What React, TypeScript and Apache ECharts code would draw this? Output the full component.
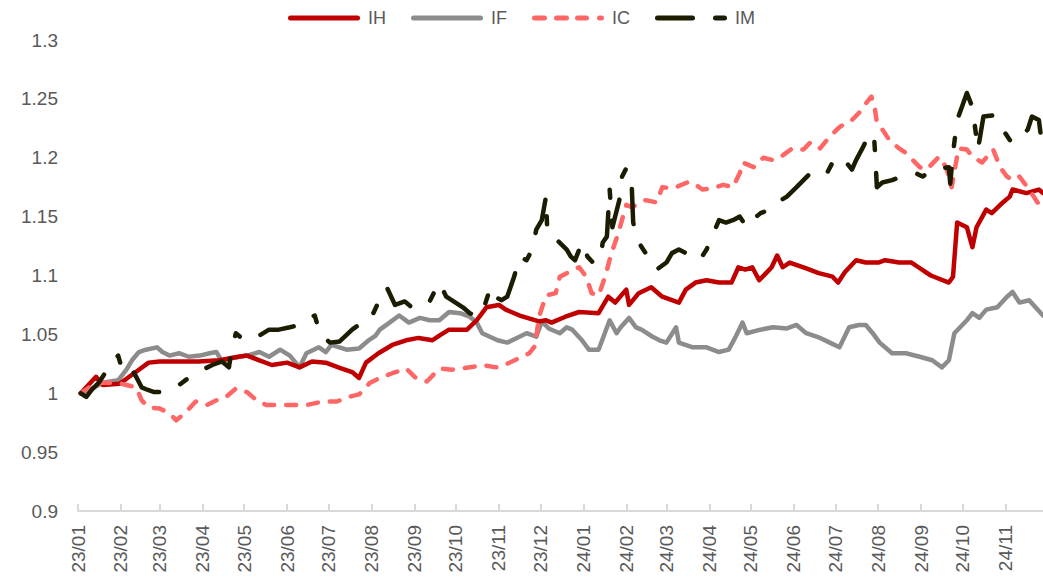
import React, { useEffect, useRef } from "react";
import * as echarts from "echarts";

type Pt = [string, number];

const seriesNames = ["IH", "IF", "IC", "IM"];

const monthLabels = [
  "23/01", "23/02", "23/03", "23/04", "23/05", "23/06", "23/07", "23/08", "23/09", "23/10", "23/11", "23/12",
  "24/01", "24/02", "24/03", "24/04", "24/05", "24/06", "24/07", "24/08", "24/09", "24/10", "24/11",
];

const yTicks = [0.9, 0.95, 1, 1.05, 1.1, 1.15, 1.2, 1.25, 1.3];

const IH: Pt[] = [
  ["2023-01-03", 1.0], ["2023-01-14", 1.014], ["2023-01-19", 1.007], ["2023-01-31", 1.008], ["2023-02-07", 1.014],
  ["2023-02-14", 1.02], ["2023-02-21", 1.026], ["2023-03-01", 1.027], ["2023-03-15", 1.027], ["2023-03-29", 1.027],
  ["2023-04-13", 1.028], ["2023-04-27", 1.031], ["2023-05-03", 1.032], ["2023-05-12", 1.028], ["2023-05-21", 1.024],
  ["2023-06-01", 1.026], ["2023-06-10", 1.022], ["2023-06-19", 1.027], ["2023-06-29", 1.026], ["2023-07-08", 1.022],
  ["2023-07-18", 1.018], ["2023-07-23", 1.013], ["2023-07-28", 1.026], ["2023-08-06", 1.034], ["2023-08-16", 1.041],
  ["2023-08-26", 1.045], ["2023-09-04", 1.047], ["2023-09-14", 1.045], ["2023-09-19", 1.049], ["2023-09-26", 1.054],
  ["2023-10-09", 1.054], ["2023-10-16", 1.062], ["2023-10-23", 1.073], ["2023-11-01", 1.075], ["2023-11-06", 1.071],
  ["2023-11-16", 1.066], ["2023-11-30", 1.061], ["2023-12-05", 1.062], ["2023-12-09", 1.06], ["2023-12-19", 1.065],
  ["2023-12-29", 1.069], ["2024-01-12", 1.068], ["2024-01-19", 1.082], ["2024-01-24", 1.077], ["2024-02-01", 1.088],
  ["2024-02-03", 1.075], ["2024-02-10", 1.085], ["2024-02-19", 1.09], ["2024-02-27", 1.082], ["2024-03-05", 1.079],
  ["2024-03-10", 1.077], ["2024-03-15", 1.088], ["2024-03-22", 1.094], ["2024-03-30", 1.096], ["2024-04-08", 1.094],
  ["2024-04-17", 1.094], ["2024-04-22", 1.107], ["2024-04-27", 1.105], ["2024-05-02", 1.107], ["2024-05-07", 1.096],
  ["2024-05-12", 1.102], ["2024-05-16", 1.107], ["2024-05-20", 1.117], ["2024-05-24", 1.107], ["2024-05-29", 1.111],
  ["2024-06-10", 1.106], ["2024-06-19", 1.102], ["2024-06-29", 1.099], ["2024-07-03", 1.094], ["2024-07-08", 1.103],
  ["2024-07-16", 1.113], ["2024-07-23", 1.111], ["2024-08-01", 1.111], ["2024-08-06", 1.113], ["2024-08-16", 1.111],
  ["2024-08-25", 1.111], ["2024-08-30", 1.107], ["2024-09-08", 1.1], ["2024-09-21", 1.094], ["2024-09-24", 1.099],
  ["2024-09-27", 1.145], ["2024-10-04", 1.141], ["2024-10-08", 1.124], ["2024-10-11", 1.141], ["2024-10-18", 1.156],
  ["2024-10-22", 1.153], ["2024-10-30", 1.162], ["2024-11-04", 1.167], ["2024-11-06", 1.173], ["2024-11-16", 1.17],
  ["2024-11-25", 1.173], ["2024-11-28", 1.17],
];

const IF: Pt[] = [
  ["2023-01-03", 1.0], ["2023-01-11", 1.004], ["2023-01-19", 1.009], ["2023-01-30", 1.011], ["2023-02-05", 1.02],
  ["2023-02-09", 1.028], ["2023-02-14", 1.035], ["2023-02-19", 1.037], ["2023-02-27", 1.039], ["2023-03-03", 1.035],
  ["2023-03-08", 1.032], ["2023-03-15", 1.034], ["2023-03-22", 1.031], ["2023-03-30", 1.032], ["2023-04-06", 1.034],
  ["2023-04-11", 1.035], ["2023-04-15", 1.027], ["2023-04-22", 1.03], ["2023-05-03", 1.032], ["2023-05-12", 1.035],
  ["2023-05-19", 1.031], ["2023-05-27", 1.037], ["2023-06-03", 1.032], ["2023-06-10", 1.022], ["2023-06-15", 1.034],
  ["2023-06-24", 1.039], ["2023-06-29", 1.035], ["2023-07-03", 1.041], ["2023-07-14", 1.037], ["2023-07-23", 1.038],
  ["2023-07-30", 1.045], ["2023-08-04", 1.049], ["2023-08-07", 1.054], ["2023-08-14", 1.06], ["2023-08-21", 1.066],
  ["2023-08-28", 1.06], ["2023-09-05", 1.064], ["2023-09-12", 1.062], ["2023-09-19", 1.062], ["2023-09-26", 1.069],
  ["2023-10-04", 1.068], ["2023-10-11", 1.065], ["2023-10-16", 1.06], ["2023-10-20", 1.051], ["2023-10-31", 1.045],
  ["2023-11-07", 1.043], ["2023-11-14", 1.047], ["2023-11-21", 1.051], ["2023-11-28", 1.048], ["2023-12-02", 1.061],
  ["2023-12-07", 1.055], ["2023-12-15", 1.051], ["2023-12-20", 1.056], ["2023-12-24", 1.054], ["2023-12-31", 1.045],
  ["2024-01-05", 1.037], ["2024-01-12", 1.037], ["2024-01-20", 1.062], ["2024-01-25", 1.051], ["2024-01-28", 1.056],
  ["2024-02-03", 1.064], ["2024-02-08", 1.056], ["2024-02-12", 1.054], ["2024-02-20", 1.048], ["2024-02-25", 1.045],
  ["2024-03-01", 1.043], ["2024-03-08", 1.056], ["2024-03-10", 1.043], ["2024-03-20", 1.039], ["2024-03-30", 1.039],
  ["2024-04-08", 1.035], ["2024-04-15", 1.037], ["2024-04-20", 1.048], ["2024-04-25", 1.06], ["2024-04-28", 1.051],
  ["2024-05-08", 1.054], ["2024-05-17", 1.056], ["2024-05-27", 1.055], ["2024-06-03", 1.058], ["2024-06-10", 1.051],
  ["2024-06-20", 1.047], ["2024-06-27", 1.043], ["2024-07-04", 1.039], ["2024-07-11", 1.056], ["2024-07-18", 1.058],
  ["2024-07-23", 1.058], ["2024-07-28", 1.051], ["2024-08-02", 1.043], ["2024-08-11", 1.034], ["2024-08-21", 1.034],
  ["2024-08-31", 1.031], ["2024-09-09", 1.028], ["2024-09-16", 1.022], ["2024-09-21", 1.028], ["2024-09-25", 1.051],
  ["2024-10-04", 1.062], ["2024-10-08", 1.068], ["2024-10-13", 1.064], ["2024-10-18", 1.071], ["2024-10-26", 1.073],
  ["2024-11-02", 1.082], ["2024-11-06", 1.086], ["2024-11-11", 1.077], ["2024-11-18", 1.079], ["2024-11-28", 1.066],
];

const IC: Pt[] = [
  ["2023-01-03", 1.0], ["2023-01-12", 1.007], ["2023-01-19", 1.009], ["2023-01-29", 1.009], ["2023-02-05", 1.007],
  ["2023-02-12", 1.005], ["2023-02-16", 0.994], ["2023-02-21", 0.988], ["2023-03-01", 0.987], ["2023-03-08", 0.983],
  ["2023-03-13", 0.977], ["2023-03-20", 0.984], ["2023-03-27", 0.993], ["2023-04-04", 0.99], ["2023-04-11", 0.994],
  ["2023-04-18", 0.997], ["2023-04-25", 1.004], ["2023-05-03", 1.001], ["2023-05-10", 0.994], ["2023-05-17", 0.99],
  ["2023-06-01", 0.99], ["2023-06-15", 0.99], ["2023-06-27", 0.993], ["2023-07-07", 0.993], ["2023-07-16", 0.997],
  ["2023-07-23", 0.999], ["2023-07-31", 1.009], ["2023-08-07", 1.013], ["2023-08-16", 1.017], ["2023-08-26", 1.021],
  ["2023-09-02", 1.013], ["2023-09-10", 1.01], ["2023-09-19", 1.021], ["2023-09-28", 1.02], ["2023-10-11", 1.022],
  ["2023-10-20", 1.024], ["2023-10-30", 1.022], ["2023-11-07", 1.025], ["2023-11-16", 1.03], ["2023-11-23", 1.034],
  ["2023-11-27", 1.04], ["2023-11-30", 1.065], ["2023-12-05", 1.083], ["2023-12-12", 1.085], ["2023-12-15", 1.099],
  ["2023-12-20", 1.102], ["2023-12-29", 1.107], ["2024-01-03", 1.099], ["2024-01-07", 1.085], ["2024-01-12", 1.083],
  ["2024-01-17", 1.1], ["2024-01-21", 1.118], ["2024-01-26", 1.135], ["2024-02-01", 1.16], ["2024-02-05", 1.158],
  ["2024-02-15", 1.164], ["2024-02-23", 1.162], ["2024-02-27", 1.175], ["2024-03-06", 1.174], ["2024-03-16", 1.179],
  ["2024-03-20", 1.179], ["2024-03-27", 1.173], ["2024-04-03", 1.174], ["2024-04-11", 1.177], ["2024-04-18", 1.175],
  ["2024-04-23", 1.187], ["2024-04-25", 1.196], ["2024-05-03", 1.192], ["2024-05-10", 1.2], ["2024-05-17", 1.198],
  ["2024-05-24", 1.202], ["2024-05-31", 1.208], ["2024-06-08", 1.207], ["2024-06-13", 1.213], ["2024-06-20", 1.208],
  ["2024-06-27", 1.218], ["2024-07-04", 1.226], ["2024-07-09", 1.23], ["2024-07-13", 1.232], ["2024-07-18", 1.238],
  ["2024-07-23", 1.246], ["2024-07-27", 1.252], ["2024-07-29", 1.246], ["2024-07-31", 1.23], ["2024-08-04", 1.224],
  ["2024-08-09", 1.215], ["2024-08-16", 1.208], ["2024-08-21", 1.204], ["2024-08-31", 1.192], ["2024-09-05", 1.19],
  ["2024-09-14", 1.201], ["2024-09-19", 1.192], ["2024-09-23", 1.175], ["2024-09-28", 1.208], ["2024-10-04", 1.207],
  ["2024-10-08", 1.201], ["2024-10-15", 1.196], ["2024-10-23", 1.207], ["2024-10-28", 1.192], ["2024-11-02", 1.184],
  ["2024-11-06", 1.181], ["2024-11-11", 1.184], ["2024-11-18", 1.173], ["2024-11-28", 1.155],
];

const IM: Pt[] = [
  ["2023-01-03", 1.0], ["2023-01-07", 0.997], ["2023-01-11", 1.003], ["2023-01-16", 1.009], ["2023-01-21", 1.018],
  ["2023-01-26", 1.026], ["2023-01-30", 1.032], ["2023-02-02", 1.02], ["2023-02-05", 1.017], ["2023-02-09", 1.02],
  ["2023-02-12", 1.014], ["2023-02-16", 1.005], ["2023-02-20", 1.003], ["2023-02-25", 1.001], ["2023-03-03", 1.001],
  ["2023-03-10", 1.003], ["2023-03-15", 1.007], ["2023-03-24", 1.015], ["2023-04-01", 1.02], ["2023-04-08", 1.024],
  ["2023-04-15", 1.027], ["2023-04-20", 1.022], ["2023-04-22", 1.037], ["2023-04-25", 1.051], ["2023-05-01", 1.045],
  ["2023-05-07", 1.047], ["2023-05-12", 1.049], ["2023-05-19", 1.054], ["2023-05-26", 1.054], ["2023-06-03", 1.056],
  ["2023-06-10", 1.058], ["2023-06-15", 1.063], ["2023-06-21", 1.066], ["2023-06-25", 1.05], ["2023-06-27", 1.048],
  ["2023-07-02", 1.043], ["2023-07-09", 1.044], ["2023-07-18", 1.054], ["2023-07-25", 1.06], ["2023-07-31", 1.062],
  ["2023-08-07", 1.08], ["2023-08-12", 1.09], ["2023-08-18", 1.075], ["2023-08-25", 1.078], ["2023-08-31", 1.072],
  ["2023-09-05", 1.076], ["2023-09-12", 1.078], ["2023-09-17", 1.09], ["2023-09-19", 1.094], ["2023-09-24", 1.082],
  ["2023-10-06", 1.073], ["2023-10-11", 1.068], ["2023-10-16", 1.065], ["2023-10-21", 1.072], ["2023-10-26", 1.09],
  ["2023-10-29", 1.082], ["2023-11-03", 1.079], ["2023-11-07", 1.082], ["2023-11-12", 1.099], ["2023-11-16", 1.116],
  ["2023-11-21", 1.113], ["2023-11-25", 1.122], ["2023-11-28", 1.139], ["2023-12-02", 1.147], ["2023-12-05", 1.167],
  ["2023-12-06", 1.136], ["2023-12-13", 1.13], ["2023-12-20", 1.122], ["2023-12-23", 1.116], ["2023-12-26", 1.113],
  ["2023-12-31", 1.128], ["2024-01-04", 1.116], ["2024-01-08", 1.111], ["2024-01-13", 1.113], ["2024-01-15", 1.128],
  ["2024-01-18", 1.133], ["2024-01-20", 1.173], ["2024-01-22", 1.141], ["2024-01-27", 1.164], ["2024-01-29", 1.184],
  ["2024-02-01", 1.191], ["2024-02-05", 1.175], ["2024-02-06", 1.145], ["2024-02-10", 1.128], ["2024-02-15", 1.119],
  ["2024-02-20", 1.111], ["2024-02-23", 1.105], ["2024-03-01", 1.111], ["2024-03-05", 1.119], ["2024-03-10", 1.122],
  ["2024-03-15", 1.119], ["2024-03-25", 1.113], ["2024-03-30", 1.122], ["2024-04-03", 1.133], ["2024-04-08", 1.147],
  ["2024-04-13", 1.145], ["2024-04-18", 1.147], ["2024-04-23", 1.15], ["2024-04-28", 1.141], ["2024-05-02", 1.147],
  ["2024-05-08", 1.153], ["2024-05-15", 1.156], ["2024-05-20", 1.162], ["2024-05-27", 1.167], ["2024-06-03", 1.175],
  ["2024-06-13", 1.187], ["2024-06-20", 1.19], ["2024-06-25", 1.187], ["2024-06-29", 1.196], ["2024-07-04", 1.201],
  ["2024-07-09", 1.196], ["2024-07-13", 1.19], ["2024-07-16", 1.198], ["2024-07-21", 1.209], ["2024-07-26", 1.221],
  ["2024-07-29", 1.218], ["2024-07-30", 1.198], ["2024-07-31", 1.175], ["2024-08-04", 1.179], ["2024-08-11", 1.181],
  ["2024-08-18", 1.184], ["2024-08-28", 1.187], ["2024-09-02", 1.184], ["2024-09-09", 1.19], ["2024-09-21", 1.192],
  ["2024-09-22", 1.178], ["2024-09-24", 1.204], ["2024-09-27", 1.232], ["2024-10-01", 1.245], ["2024-10-04", 1.255],
  ["2024-10-08", 1.243], ["2024-10-12", 1.207], ["2024-10-16", 1.235], ["2024-10-23", 1.236], ["2024-10-30", 1.224],
  ["2024-11-04", 1.215], ["2024-11-09", 1.213], ["2024-11-17", 1.224], ["2024-11-20", 1.235], ["2024-11-25", 1.232],
  ["2024-11-28", 1.205],
];

const xMin = "2023-01-01";
const xMax = "2024-11-28";

const FONT = "'Liberation Sans', Arial, sans-serif";
const TEXT_COLOR = "#595959";

// legend icons (72 x 5 boxes) mimicking each line style
const ICON_SOLID = "path://M2.5,0H69.5A2.5,2.5,0,0,1,69.5,5H2.5A2.5,2.5,0,0,1,2.5,0Z";
const ICON_DASH =
  "path://M2.5,0H12.5A2.5,2.5,0,0,1,12.5,5H2.5A2.5,2.5,0,0,1,2.5,0Z" +
  "M24.5,0H34.5A2.5,2.5,0,0,1,34.5,5H24.5A2.5,2.5,0,0,1,24.5,0Z" +
  "M45.5,0H54.5A2.5,2.5,0,0,1,54.5,5H45.5A2.5,2.5,0,0,1,45.5,0Z" +
  "M67.5,0H69.5A2.5,2.5,0,0,1,69.5,5H67.5A2.5,2.5,0,0,1,67.5,0Z";
const ICON_LONGDASH =
  "path://M2.5,0H37.5A2.5,2.5,0,0,1,37.5,5H2.5A2.5,2.5,0,0,1,2.5,0Z" +
  "M60.5,0H69.5A2.5,2.5,0,0,1,69.5,5H60.5A2.5,2.5,0,0,1,60.5,0Z";

function dateToTime(s: string): number {
  const [y, m, d] = s.split("-").map(Number);
  return new Date(y, m - 1, d).getTime();
}

function labelToTime(label: string): number {
  const [yy, mm] = label.split("/").map(Number);
  return new Date(2000 + yy, mm - 1, 1).getTime();
}

export default function App() {
  const ref = useRef<HTMLDivElement>(null);

  useEffect(() => {
    if (!ref.current) return;
    const chart = echarts.init(ref.current, null, { renderer: "svg" });
    const monthTimes = monthLabels.map(labelToTime);
    const labelMap = new Map<number, string>();
    monthTimes.forEach((t, i) => labelMap.set(t, monthLabels[i]));

    const mk = (name: string, data: Pt[], color: string, dash: any, z: number) => ({
      name,
      type: "line",
      data: data.map(([d, v]) => [dateToTime(d), v]),
      symbol: "none",
      showSymbol: false,
      z,
      lineStyle: { color, width: 4.5, type: dash, cap: "round", join: "round" },
      itemStyle: { color },
    });

    const icons = [ICON_SOLID, ICON_SOLID, ICON_DASH, ICON_LONGDASH];

    chart.setOption({
      animation: false,
      backgroundColor: "#ffffff",
      legend: {
        data: seriesNames.map((n, i) => ({ name: n, icon: icons[i] })),
        top: 4,
        left: "center",
        itemWidth: 72,
        itemHeight: 5,
        itemGap: 25,
        textStyle: { color: TEXT_COLOR, fontSize: 18, fontFamily: FONT, padding: [0, 0, 0, 3] },
      },
      grid: { left: 78, right: 0, top: 40, bottom: 73, containLabel: false },
      xAxis: {
        type: "value",
        min: dateToTime(xMin),
        max: dateToTime(xMax),
        splitLine: { show: false },
        axisLine: { show: true, lineStyle: { color: "#D9D9D9", width: 2 } },
        axisTick: {
          show: true,
          inside: true,
          length: 7,
          customValues: monthTimes,
          lineStyle: { color: "#D9D9D9", width: 2 },
        },
        axisLabel: {
          customValues: monthTimes,
          rotate: 90,
          margin: 14,
          color: TEXT_COLOR,
          fontSize: 19,
          fontFamily: FONT,
          formatter: (v: number) => labelMap.get(v) ?? "",
        },
      },
      yAxis: {
        type: "value",
        min: yTicks[0],
        max: yTicks[yTicks.length - 1],
        interval: 0.05,
        splitLine: { show: false },
        axisLine: { show: false },
        axisTick: { show: false },
        axisLabel: {
          margin: 20,
          color: TEXT_COLOR,
          fontSize: 19,
          fontFamily: FONT,
          formatter: (v: number) => String(Number(v.toFixed(2))),
        },
      },
      series: [
        mk("IH", IH, "#C00000", "solid", 3),
        mk("IF", IF, "#8C8C8C", "solid", 2),
        mk("IC", IC, "#FF6666", [10, 12], 4),
        mk("IM", IM, "#1C1C00", [35, 23, 8, 23], 5),
      ],
    });

    return () => chart.dispose();
  }, []);

  return (
    <div
      ref={ref}
      style={{ position: "absolute", left: 0, top: 0, width: 1043, height: 584, background: "#fff" }}
    />
  );
}
